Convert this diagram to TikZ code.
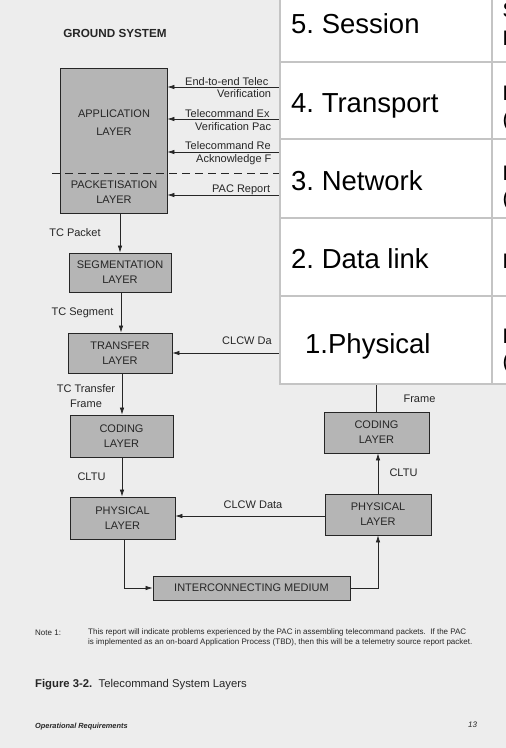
\documentclass[tikz,border=0pt]{standalone}
\usepackage{fontspec}
\setmainfont{Liberation Sans}
\usetikzlibrary{arrows.meta}
\definecolor{paper}{HTML}{EDEDED}
\definecolor{boxfill}{HTML}{B5B5B5}
\definecolor{ink}{HTML}{262626}
\definecolor{tline}{HTML}{C4C4C4}
\frenchspacing
\tikzset{
  layerbox/.style={draw=ink, line width=0.8pt, fill=boxfill, inner sep=0pt},
  lbl/.style={font=\fontsize{11}{15}\selectfont, text=ink, inner sep=0pt, align=center},
  arr/.style={draw=ink, line width=0.7pt, -{Latex[length=7pt,width=4.5pt]}},
  conn/.style={draw=ink, line width=0.7pt},
  tcell/.style={font=\fontsize{27.5}{30}\selectfont, inner sep=0pt, anchor=base west, text=black},
  tcut/.style={font=\fontsize{21}{24}\selectfont, inner sep=0pt, anchor=base west, text=black},
  notetxt/.style={font=\fontsize{8}{9}\selectfont, text=ink, inner sep=0pt, anchor=base west},
}
\begin{document}
\begin{tikzpicture}[x=1pt,y=-1pt]
\useasboundingbox (0,0) rectangle (506,748);
\clip (0,0) rectangle (506,748);
\fill[paper] (0,0) rectangle (506,748);

% ---------- ground system ----------
\node[lbl, font=\bfseries\fontsize{11.7}{14}\selectfont] (gs) at (115,33) {GROUND SYSTEM};

\node[layerbox, minimum width=107pt, minimum height=145pt] (app) at (113.5,140.5) {};
\node[lbl, font=\fontsize{11}{18}\selectfont] (apptxt) at (114,123) {APPLICATION\\LAYER};
\node[lbl] (pactxt) at (114,192.5) {PACKETISATION\\LAYER};
\coordinate (dl) at (52,173);
\coordinate (dr) at (290,173);
\draw[conn, dash pattern=on 8pt off 5pt] (dl) -- (dr);

% incoming arrows (sources hidden under the table)
\coordinate (e1) at (290,87);
\coordinate (e2) at (290,119);
\coordinate (e3) at (290,152);
\coordinate (e4) at (290,195);
\draw[arr] (e1) -- (e1 -| app.east);
\draw[arr] (e2) -- (e2 -| app.east);
\draw[arr] (e3) -- (e3 -| app.east);
\draw[arr] (e4) -- (e4 -| app.east);
\node[lbl, anchor=base west] (l1a) at (185,85) {End-to-end Telec};
\node[lbl, anchor=base west] (l1b) at (217,97) {Verification};
\node[lbl, anchor=base west] (l2a) at (185,117) {Telecommand Ex};
\node[lbl, anchor=base west] (l2b) at (195,130) {Verification Pac};
\node[lbl, anchor=base west] (l3a) at (185,149) {Telecommand Re};
\node[lbl, anchor=base west] (l3b) at (196,162) {Acknowledge F};
\node[lbl, anchor=base west] (l4a) at (212,192) {PAC Report};

% ---------- left column ----------
\node[layerbox, minimum width=102pt, minimum height=39pt, lbl] (seg) at (120,272.5) {SEGMENTATION\\LAYER};
\node[layerbox, minimum width=104pt, minimum height=40pt, lbl] (trn) at (120,353) {TRANSFER\\LAYER};
\node[layerbox, minimum width=103pt, minimum height=42pt, lbl] (lcod) at (121.5,436) {CODING\\LAYER};
\node[layerbox, minimum width=105pt, minimum height=42pt, lbl] (lphy) at (122.5,518) {PHYSICAL\\LAYER};

\draw[arr] (app.south -| seg.north) -- (seg.north);
\draw[arr] (seg.south -| 121,0) -- (trn.north -| 121,0);
\draw[arr] (trn.south -| 122,0) -- (lcod.north -| 122,0);
\draw[arr] (lcod.south -| 122,0) -- (lphy.north -| 122,0);

\node[lbl] (tcp) at (75,233) {TC Packet};
\node[lbl] (tcs) at (82.5,313) {TC Segment};
\node[lbl] (tct) at (86,396) {TC Transfer\\Frame};
\node[lbl] (cltu1) at (91.5,477) {CLTU};

\coordinate (cw1) at (290,353);
\draw[arr] (cw1) -- (trn.east |- cw1);
\node[lbl, anchor=base west] (cwl1) at (222,344) {CLCW Da};

% ---------- right column ----------
\node[layerbox, minimum width=105pt, minimum height=41pt, lbl] (rcod) at (376.5,432.5) {CODING\\LAYER};
\node[layerbox, minimum width=106pt, minimum height=41pt, lbl] (rphy) at (378,514.5) {PHYSICAL\\LAYER};
\coordinate (fr) at (376.5,380);
\draw[conn] (fr) -- (rcod.north);
\node[lbl] (frl) at (419.5,399) {Frame};
\draw[arr] (rphy.north) -- (rcod.south -| rphy.north);
\node[lbl] (cltu2) at (403.5,473) {CLTU};

\draw[arr] (rphy.west |- 0,516) -- (lphy.east |- 0,516);
\node[lbl] (cwl2) at (253,505) {CLCW Data};

% ---------- medium ----------
\node[layerbox, minimum width=197pt, minimum height=24pt, lbl] (icm) at (251.5,588) {INTERCONNECTING MEDIUM};
\draw[arr] (lphy.south -| 124,0) |- (icm.west);
\draw[arr] (icm.east) -| (rphy.south);

% ---------- overlay table ----------
\fill[white] (280,-10) rectangle (506,384);
\draw[tline, line width=1.3pt] (280,-10) -- (280,384) -- (506,384);
\draw[tline, line width=1.3pt] (492,-10) -- (492,384);
\foreach \yy in {62,139,218,296} \draw[tline, line width=1.3pt] (280,\yy) -- (506,\yy);
\node[tcell] (r5) at (291,33) {5. Session};
\node[tcell] (r4) at (291,112) {4. Transport};
\node[tcell] (r3) at (291,190) {3. Network};
\node[tcell] (r2) at (291,268) {2. Data link};
\node[tcell] (r1) at (305,353) {1.Physical};
\node[tcut] (c5a) at (502.5,17) {S};
\node[tcut] (c5b) at (502.5,45) {P};
\node[tcut] (c4a) at (502.5,100) {P};
\node[tcut] (c4b) at (502.5,126) {(};
\node[tcut] (c3a) at (502.5,180) {P};
\node[tcut] (c3b) at (502.5,205) {(};
\node[tcut] (c2a) at (502.5,268) {P};
\node[tcut] (c1a) at (502.5,343) {P};
\node[tcut] (c1b) at (502.5,368) {(};

% ---------- notes and captions ----------
\node[notetxt] (n1) at (35,635) {Note 1:};
\node[notetxt] (n2) at (88,634) {This report will indicate problems experienced by the PAC in assembling telecommand packets.\ \ If the PAC};
\node[notetxt] (n3) at (88,644) {is implemented as an on-board Application Process (TBD), then this will be a telemetry source report packet.};
\node[lbl, anchor=base west, font=\fontsize{11.3}{13}\selectfont] (cap) at (35,687) {\textbf{Figure 3-2.}\ \ Telecommand System Layers};
\node[notetxt, font=\bfseries\itshape\fontsize{7.4}{9}\selectfont] (op) at (35,728) {Operational Requirements};
\node[notetxt, font=\itshape\fontsize{8}{9}\selectfont] (pg) at (468,727) {13};
\end{tikzpicture}
\end{document}
